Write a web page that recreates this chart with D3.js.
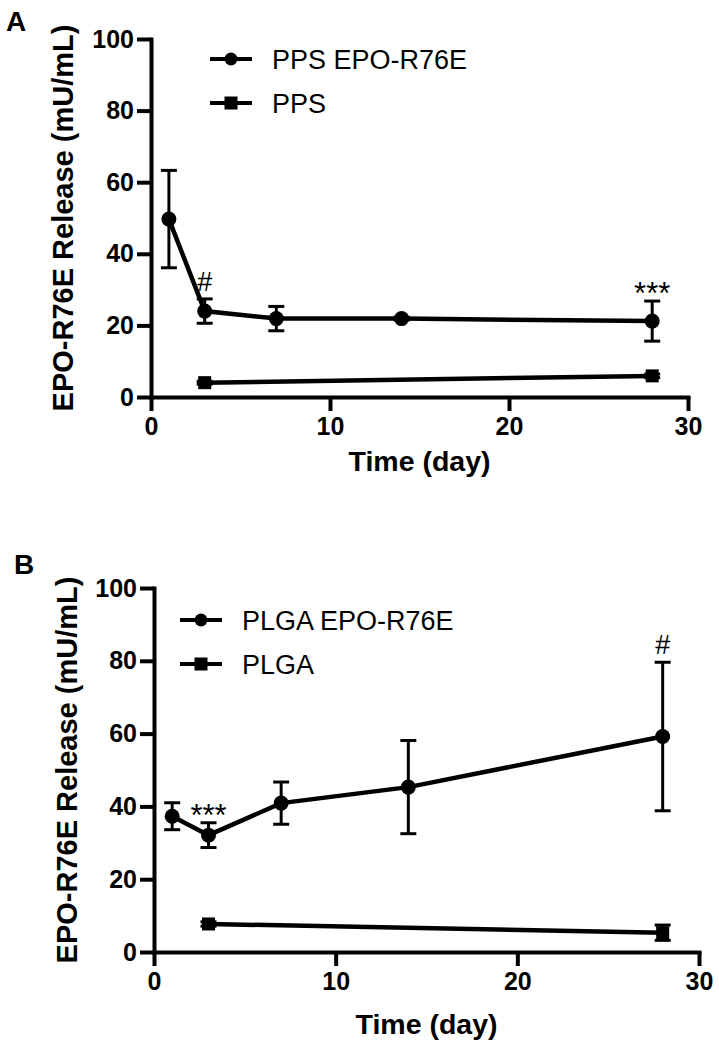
<!DOCTYPE html>
<html>
<head>
<meta charset="utf-8">
<script src="https://cdn.jsdelivr.net/npm/d3@7"></script>
<style>
  body { margin: 0; background: #fff; }
  svg { display: block; font-family: "Liberation Sans", Arial, sans-serif; }
</style>
</head>
<body>
<script>
const WIDTH = 719
const HEIGHT = 1050

// Shared axes
const xTicks = [0, 10, 20, 30]
const yTicks = [0, 20, 40, 60, 80, 100]
const xLabel = "Time (day)"
const yLabel = "EPO-R76E Release (mU/mL)"

// Panel A
const ppsEpoDays = [1, 3, 7, 14, 28]
const ppsEpoMean = [49.7, 24.0, 21.9, 21.9, 21.2]
const ppsEpoSd = [13.6, 3.4, 3.4, 0.4, 5.6]
const ppsDays = [3, 28]
const ppsMean = [4.0, 5.9]
const ppsSd = [0.4, 0.5]
const annotA = [{ day: 3, text: "#" }, { day: 28, text: "***" }]

// Panel B
const plgaEpoDays = [1, 3, 7, 14, 28]
const plgaEpoMean = [37.3, 32.1, 40.9, 45.3, 59.2]
const plgaEpoSd = [3.7, 3.4, 5.8, 12.8, 20.4]
const plgaDays = [3, 28]
const plgaMean = [7.7, 5.3]
const plgaSd = [0.6, 2.1]
const annotB = [{ day: 3, text: "***" }, { day: 28, text: "#" }]

const toRows = (days, mean, sd) => days.map((d, i) => ({ day: d, mean: mean[i], sd: sd[i] }))

const svg = d3.select("body").append("svg")
  .attr("width", WIDTH)
  .attr("height", HEIGHT)
  .attr("viewBox", [0, 0, WIDTH, HEIGHT])

const styleAxis = a => {
  a.select(".domain").attr("stroke-width", 4).attr("stroke-linecap", "square")
  a.selectAll(".tick line").attr("stroke-width", 4)
  a.selectAll(".tick text")
    .attr("font-size", 25).attr("font-weight", "bold").attr("fill", "#000")
    .attr("font-family", "Liberation Sans, Arial, sans-serif")
}

const drawPanel = (cfg) => {
  const x = d3.scaleLinear([0, 30], cfg.xRange)
  const y = d3.scaleLinear([0, 100], cfg.yRange)
  const g = svg.append("g")

  // Axes
  g.append("g")
    .attr("transform", `translate(${cfg.xRange[0]},0)`)
    .call(d3.axisLeft(y).tickValues(yTicks).tickSize(14).tickSizeOuter(0).tickPadding(3))
    .call(styleAxis)

  g.append("g")
    .attr("transform", `translate(0,${cfg.yRange[0]})`)
    .call(d3.axisBottom(x).tickValues(xTicks).tickSize(14).tickSizeOuter(0).tickPadding(6))
    .call(styleAxis)

  // Axis titles
  const yMid = (cfg.yRange[0] + cfg.yRange[1]) / 2
  g.append("text")
    .attr("transform", `translate(${cfg.yTitleX},${yMid}) rotate(-90)`)
    .attr("text-anchor", "middle")
    .attr("font-size", 29)
    .attr("font-weight", "bold")
    .text(yLabel)

  g.append("text")
    .attr("x", (cfg.xRange[0] + cfg.xRange[1]) / 2)
    .attr("y", cfg.xTitleY)
    .attr("text-anchor", "middle")
    .attr("font-size", 28.5)
    .attr("font-weight", "bold")
    .text(xLabel)

  g.append("text")
    .attr("x", cfg.letterPos[0])
    .attr("y", cfg.letterPos[1])
    .attr("font-size", 28)
    .attr("font-weight", "bold")
    .text(cfg.letter)

  const line = d3.line().x(d => x(d.day)).y(d => y(d.mean))

  cfg.series.forEach(s => {
    const sg = g.append("g")
    sg.append("path")
      .datum(s.rows)
      .attr("fill", "none")
      .attr("stroke", "#000")
      .attr("stroke-width", 4.5)
      .attr("d", line)

    const eb = sg.append("g")
      .attr("stroke", "#000")
      .attr("stroke-width", 3)
      .selectAll("g")
      .data(s.rows)
      .join("g")
    eb.append("line")
      .attr("x1", d => x(d.day)).attr("x2", d => x(d.day))
      .attr("y1", d => y(d.mean - d.sd)).attr("y2", d => y(d.mean + d.sd))
    eb.append("line")
      .attr("x1", d => x(d.day) - 8).attr("x2", d => x(d.day) + 8)
      .attr("y1", d => y(d.mean + d.sd)).attr("y2", d => y(d.mean + d.sd))
    eb.append("line")
      .attr("x1", d => x(d.day) - 8).attr("x2", d => x(d.day) + 8)
      .attr("y1", d => y(d.mean - d.sd)).attr("y2", d => y(d.mean - d.sd))

    if (s.shape === "circle") {
      sg.selectAll("circle")
        .data(s.rows)
        .join("circle")
          .attr("cx", d => x(d.day))
          .attr("cy", d => y(d.mean))
          .attr("r", 7.5)
    } else {
      sg.selectAll("rect")
        .data(s.rows)
        .join("rect")
          .attr("x", d => x(d.day) - 6.5)
          .attr("y", d => y(d.mean) - 6.5)
          .attr("width", 13)
          .attr("height", 13)
    }
  })

  // Significance marks
  const main = cfg.series[0].rows
  g.append("g")
    .attr("text-anchor", "middle")
    .selectAll("text")
    .data(cfg.annot)
    .join("text")
      .attr("font-size", d => d.text === "#" ? 27 : 31)
      .attr("x", d => x(d.day))
      .attr("y", d => {
        const r = main.find(m => m.day === d.day)
        return y(r.mean + r.sd) + (d.text === "#" ? -8 : 3)
      })
      .text(d => d.text)

  // Legend
  const lg = g.append("g")
    .selectAll("g")
    .data(cfg.series)
    .join("g")
      .attr("transform", (d, i) => `translate(${cfg.legendPos[0]},${cfg.legendPos[1] + i * 44})`)
  lg.append("line")
    .attr("x1", -21).attr("x2", 21)
    .attr("stroke", "#000").attr("stroke-width", 4)
  lg.filter(d => d.shape === "circle").append("circle").attr("r", 6.5)
  lg.filter(d => d.shape === "square").append("rect")
    .attr("x", -6.5).attr("y", -6.5).attr("width", 13).attr("height", 13)
  lg.append("text")
    .attr("x", 41)
    .attr("y", 9.5)
    .attr("font-size", 27)
    .text(d => d.name)
}

drawPanel({
  letter: "A",
  letterPos: [6, 31],
  xRange: [151, 688],
  yRange: [397, 39],
  yTitleX: 73,
  xTitleY: 471,
  legendPos: [231, 59],
  annot: annotA,
  series: [
    { name: "PPS EPO-R76E", shape: "circle", rows: toRows(ppsEpoDays, ppsEpoMean, ppsEpoSd) },
    { name: "PPS", shape: "square", rows: toRows(ppsDays, ppsMean, ppsSd) }
  ]
})

drawPanel({
  letter: "B",
  letterPos: [14, 574],
  xRange: [154, 699],
  yRange: [952, 588],
  yTitleX: 77,
  xTitleY: 1034,
  legendPos: [201, 620],
  annot: annotB,
  series: [
    { name: "PLGA EPO-R76E", shape: "circle", rows: toRows(plgaEpoDays, plgaEpoMean, plgaEpoSd) },
    { name: "PLGA", shape: "square", rows: toRows(plgaDays, plgaMean, plgaSd) }
  ]
})
</script>
</body>
</html>
